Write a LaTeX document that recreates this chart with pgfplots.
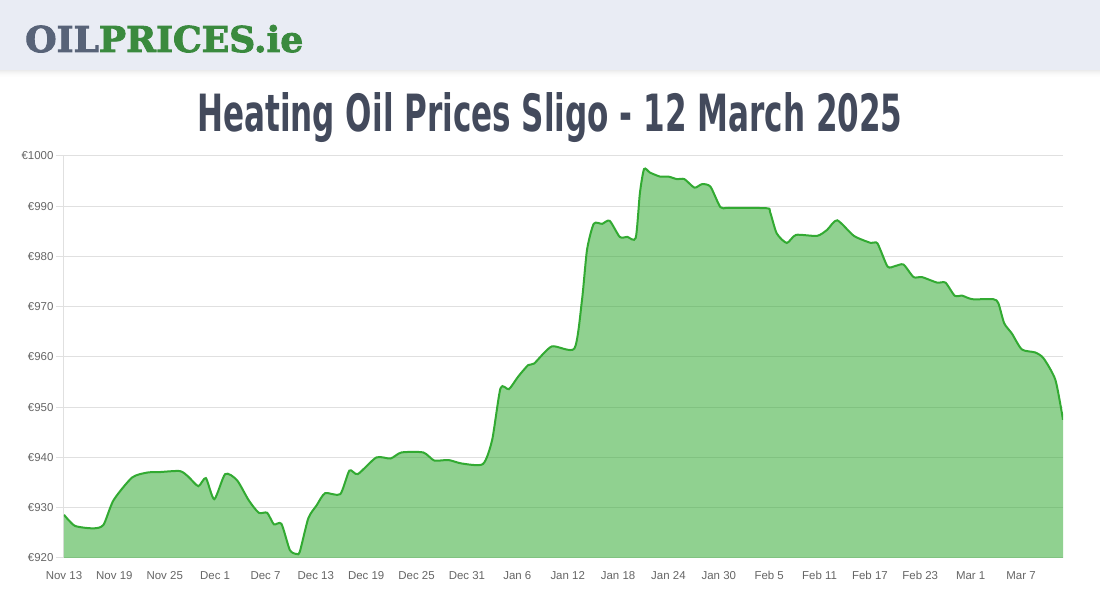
\documentclass[border=0pt]{standalone}
\usepackage{pgfplots}
\pgfplotsset{compat=1.18}
\usepackage{pgfplotstable}
\usepackage{graphicx}
\usepackage{fontspec}
\setmainfont{Liberation Sans}
\newfontfamily\logofont[FakeBold=2.5]{DejaVu Serif}
\newfontfamily\titlefont{DejaVu Sans Condensed}

\definecolor{oilline}{RGB}{50,170,50}
\definecolor{gridgray}{RGB}{224,224,224}
\definecolor{ticktext}{RGB}{102,102,102}
\definecolor{titleblue}{RGB}{67,74,92}
\definecolor{headerbg}{RGB}{233,236,244}
\definecolor{logogray}{RGB}{88,99,120}
\definecolor{logogreen}{RGB}{58,138,62}

% day (0 = Nov 13)   price in euro
\pgfplotstableread{
day price
0 928.6
1.3 926.4
3.5 925.9
4.7 926.6
5.9 931.5
8.1 936.0
9.9 937.0
11.4 937.1
13.8 937.3
14.8 936.2
16.0 934.3
16.9 935.9
17.9 931.7
19.2 936.7
20.6 935.5
22.0 931.5
23.2 929.0
24.2 929.0
25.0 926.7
25.9 926.8
26.9 921.6
27.7 920.8
28.1 921.3
29.1 927.9
30.1 930.5
31.1 932.9
32.9 932.7
34.0 937.4
35.0 936.7
37.2 940.0
38.9 939.8
40.2 941.0
42.8 941.0
44.1 939.4
45.8 939.5
47.4 938.8
49.9 938.7
51.0 943.5
52.0 953.8
53.0 953.6
54.1 956.1
55.3 958.4
56.0 958.7
58.1 962.1
60.8 961.7
61.7 971.3
62.3 981.3
63.1 986.5
64.1 986.5
65.0 987.1
66.2 983.9
67.1 983.9
68.1 983.7
68.6 992.6
69.1 997.4
69.8 996.7
71.0 995.9
72.0 995.9
73.0 995.4
73.9 995.4
75.1 993.7
76.0 994.4
77.0 993.9
78.2 989.8
79.2 989.7
83.7 989.6
84.1 988.9
84.9 984.6
86.1 982.7
87.2 984.3
89.7 984.1
90.9 985.3
92.1 987.2
94.1 984.1
96.1 982.7
96.9 982.6
98.1 978.0
99.0 978.1
100.0 978.4
101.2 975.9
102.2 975.9
104.0 974.8
105.0 974.8
106.1 972.2
107.0 972.2
108.2 971.5
110.7 971.5
111.3 970.7
112.0 966.7
112.9 964.7
114.1 961.5
115.7 960.9
116.7 959.7
118.1 955.4
119.0 947.5
}\pricedata

\begin{document}
\begin{tikzpicture}[x=1bp,y=1bp]
% page and header band
\fill[white] (0,0) rectangle (1100,600);
\fill[headerbg] (0,530) rectangle (1100,600);
\foreach \i/\o in {0/0.08,1/0.06,2/0.045,3/0.03,4/0.02,5/0.012,6/0.006}
  \fill[black,opacity=\o] (0,{529-\i}) rectangle (1100,{530-\i});

\node[anchor=base west,inner sep=0] at (25,548)
  {\resizebox{278bp}{27bp}{\logofont\bfseries\textcolor{logogray}{OIL}\textcolor{logogreen}{PRICES.ie}}};

\node[anchor=base,inner sep=0] at (550,468)
  {\resizebox{705bp}{39bp}{\titlefont\bfseries\color{titleblue}Heating Oil Prices Sligo - 12 March 2025}};

\coordinate (axpos) at (64,42);

\begin{axis}[
  at={(axpos)}, anchor=south west,
  width=999bp, height=402bp, scale only axis,
  xmin=0, xmax=119, ymin=920, ymax=1000,
  axis x line=bottom, axis y line=left,
  axis line style={gridgray, line width=1bp, -},
  xtick={0,6,...,114},
  xticklabels={Nov 13,Nov 19,Nov 25,Dec 1,Dec 7,Dec 13,Dec 19,Dec 25,Dec 31,Jan 6,Jan 12,Jan 18,Jan 24,Jan 30,Feb 5,Feb 11,Feb 17,Feb 23,Mar 1,Mar 7},
  ytick={920,930,...,1000},
  yticklabel={€\pgfmathprintnumber[assume math mode=true,1000 sep={}]{\tick}},
  ymajorgrids,
  grid style={gridgray, line width=1bp},
  tick align=outside,
  major tick length=8bp,
  xtick style={draw=none},
  ytick style={draw=gridgray, line width=1bp},
  tick label style={font=\fontsize{11.5}{13}\selectfont, text=ticktext},
  xticklabel style={yshift=-2bp},
  yticklabel style={xshift=1bp},
]
\addplot[draw=none, fill=oilline, fill opacity=0.54, smooth, tension=0.4]
  table[x=day, y=price] {\pricedata} \closedcycle;
\addplot[draw=oilline, line width=2bp, smooth, tension=0.4]
  table[x=day, y=price] {\pricedata};
\end{axis}
\end{tikzpicture}
\end{document}
